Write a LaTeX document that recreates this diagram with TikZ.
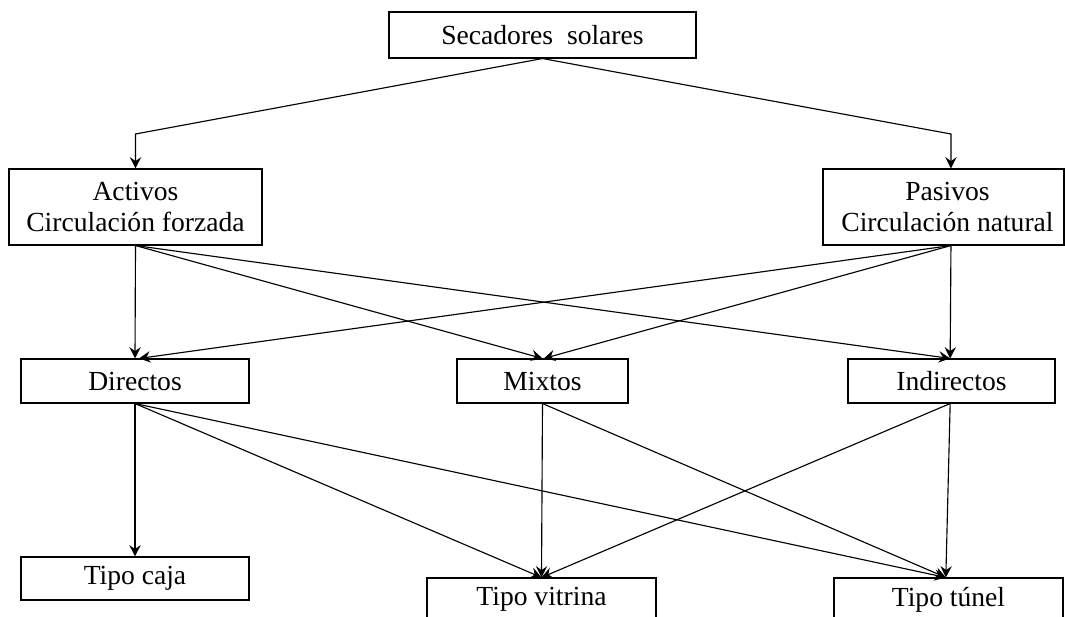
\documentclass[tikz,border=0pt]{standalone}
\usepackage{fontspec}
\setmainfont{Liberation Serif}
\usetikzlibrary{arrows.meta}
\begin{document}
\begin{tikzpicture}[x=0.75pt,y=-0.75pt,
  box/.style={draw=black,line width=0.8pt,inner sep=0pt,align=center,
    font=\fontsize{20.7pt}{23.25pt}\selectfont},
  conn/.style={line width=0.85pt,-{Stealth[length=8.5pt,width=8.5pt,inset=3pt]}}]
\clip (0,0) rectangle (1065,617);
\fill[white] (0,0) rectangle (1065,617);
% nodes
\node[box,minimum width=230.25pt,minimum height=34.5pt] (top) at (542.5,35) {Secadores\ \ solares};
\node[box,minimum width=189.75pt,minimum height=57pt] (act) at (135.5,207) {Activos\\Circulación forzada};
\node[box,minimum width=180.75pt,minimum height=57pt] (pas) at (943.5,207) {\hspace*{6pt}Pasivos\\\hspace*{6pt}Circulación natural};
\node[box,minimum width=171pt,minimum height=33pt] (dir) at (135,381) {Directos};
\node[box,minimum width=128.25pt,minimum height=33pt] (mix) at (542.5,381) {Mixtos};
\node[box,minimum width=155.25pt,minimum height=33pt] (ind) at (951.5,381) {Indirectos};
\node[box,minimum width=171pt,minimum height=32.25pt] (caja) at (135,578.5) {Tipo caja};
\node[box,minimum width=171.75pt,minimum height=32.25pt] (vit) at (541.5,599.5) {Tipo vitrina};
\node[box,minimum width=171.75pt,minimum height=32.25pt] (tun) at (948.5,599.5) {Tipo túnel};
% elbows
\coordinate (eL) at (135.5,134);
\coordinate (eR) at (951,134);
% connectors
\draw[conn] (top.south) -- (eL) -- (act.north);
\draw[conn] (top.south) -- (eR) -- ([xshift=5.6pt]pas.north);
\draw[conn] (act.south) -- (dir.north);
\draw[conn] (act.south) -- (mix.north);
\draw[conn] (act.south) -- ([xshift=-1pt]ind.north);
\draw[conn] ([xshift=5.6pt]pas.south) -- ([xshift=3pt]dir.north);
\draw[conn] ([xshift=5.6pt]pas.south) -- ([xshift=1pt]mix.north);
\draw[conn] ([xshift=5.6pt]pas.south) -- ([xshift=-1pt]ind.north);
\draw[conn] (dir.south) -- (caja.north);
\draw[conn] (dir.south) -- (vit.north);
\draw[conn] (dir.south) -- ([xshift=-2pt]tun.north);
\draw[conn] (mix.south) -- (vit.north);
\draw[conn] (mix.south) -- ([xshift=-2pt]tun.north);
\draw[conn] ([xshift=-1pt]ind.south) -- (vit.north);
\draw[conn] ([xshift=-1pt]ind.south) -- ([xshift=-2pt]tun.north);
\end{tikzpicture}
\end{document}
